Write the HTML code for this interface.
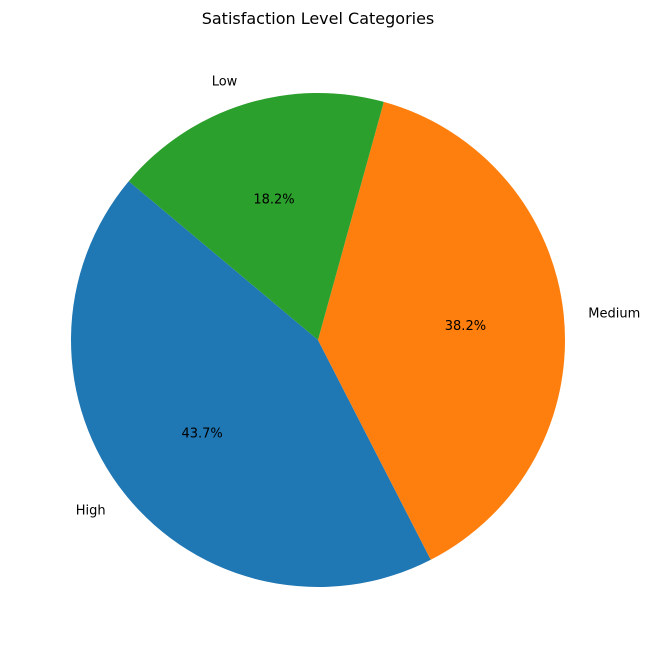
<!DOCTYPE html>
<html><head><meta charset="utf-8"><style>
html,body{margin:0;padding:0;background:#fff;}
svg{display:block;font-family:"DejaVu Sans","Liberation Sans",sans-serif;}
</style></head>
<body>
<svg id="chart" width="653" height="658" viewBox="0 0 653 658">
<text x="318" y="24" text-anchor="middle" font-size="16" fill="#000">Satisfaction Level Categories</text>
<g id="slices"></g>
</svg>
<script>
const categories = ["High", "Medium", "Low"];
const values = [43.7, 38.2, 18.2];
const colors = ["#1f77b4", "#ff7f0e", "#2ca02c"];
const startAngle = 140;

const cx = 318, cy = 340, r = 247;
const g = document.getElementById('slices');
const NS = "http://www.w3.org/2000/svg";
const total = values.reduce((a, b) => a + b, 0);
function pt(deg, rr) { const a = deg * Math.PI / 180; return [cx + rr * Math.cos(a), cy - rr * Math.sin(a)]; }
let ang = startAngle;
categories.forEach((c, i) => {
  const sweep = values[i] / total * 360;
  const a0 = ang, a1 = ang + sweep;
  const p0 = pt(a0, r), p1 = pt(a1, r);
  const large = sweep > 180 ? 1 : 0;
  const path = document.createElementNS(NS, 'path');
  path.setAttribute('d', `M${cx},${cy} L${p0[0]},${p0[1]} A${r},${r} 0 ${large} 0 ${p1[0]},${p1[1]} Z`);
  path.setAttribute('fill', colors[i]);
  
  
  g.appendChild(path);
  const mid = (a0 + a1) / 2;
  const lp = pt(mid, r * 1.1);
  const cosm = Math.cos(mid * Math.PI / 180);
  const lab = document.createElementNS(NS, 'text');
  lab.setAttribute('x', lp[0]); lab.setAttribute('y', lp[1] + 5);
  lab.setAttribute('text-anchor', cosm < 0 ? 'end' : 'start');
  lab.setAttribute('font-size', '13');
  lab.textContent = c;
  
  
  g.appendChild(lab);
  const pp = pt(mid, r * 0.6);
  const pct = document.createElementNS(NS, 'text');
  pct.setAttribute('x', pp[0]); pct.setAttribute('y', pp[1] + 5);
  pct.setAttribute('text-anchor', 'middle');
  pct.setAttribute('font-size', '13');
  pct.textContent = (values[i] / total * 100).toFixed(1) + '%';
  
  
  g.appendChild(pct);
  ang = a1;
});
</script>
</body></html>
